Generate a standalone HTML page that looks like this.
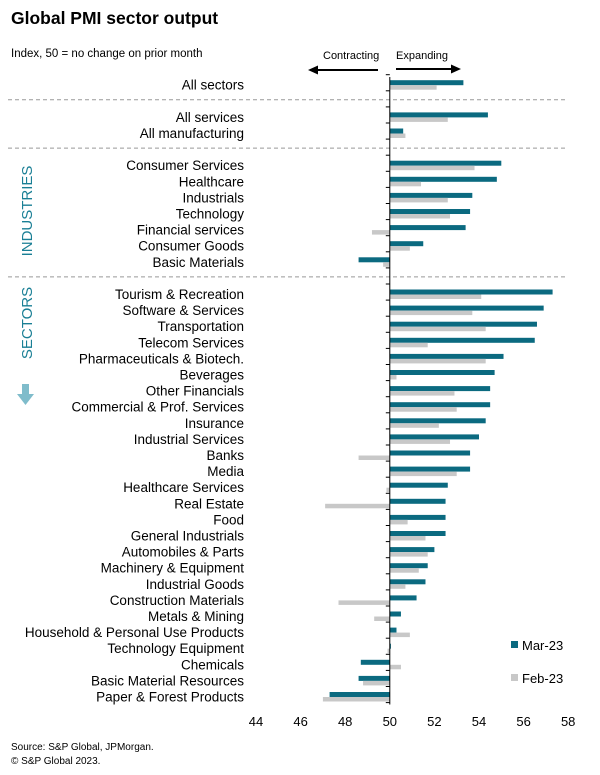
<!DOCTYPE html>
<html><head><meta charset="utf-8">
<style>
body{margin:0;background:#fff;}
svg{display:block;font-family:"Liberation Sans",Arial,sans-serif;}
</style></head>
<body>
<svg id="chart" width="600" height="775" viewBox="0 0 600 775" xmlns="http://www.w3.org/2000/svg">
<text x="11" y="24" font-size="17.5" font-weight="bold" fill="#000">Global PMI sector output</text>
<text x="11" y="57" font-size="11.5" fill="#000">Index, 50 = no change on prior month</text>
<text x="323" y="59" font-size="11" fill="#000">Contracting</text>
<text x="396" y="59" font-size="11" fill="#000">Expanding</text>
<g><line x1="316" y1="70" x2="378" y2="70" stroke="#000" stroke-width="2"/><polygon points="308,70 318,65.5 318,74.5" fill="#000"/></g>
<g><line x1="396" y1="69" x2="452" y2="69" stroke="#000" stroke-width="2"/><polygon points="461,69 451,64.5 451,73.5" fill="#000"/></g>
<text transform="translate(32,211) rotate(-90)" text-anchor="middle" font-size="15" fill="#1a7f95">INDUSTRIES</text>
<text transform="translate(32,323) rotate(-90)" text-anchor="middle" font-size="15" fill="#1a7f95">SECTORS</text>
<g><rect x="22" y="384" width="7" height="11" fill="#7fbccb"/><polygon points="17,394 34,394 25.5,405" fill="#7fbccb"/></g>
<g id="plot"></g>
<g>
<rect x="511" y="641" width="7" height="7" fill="#0b6a80"/>
<text x="522" y="650" font-size="13" fill="#000">Mar-23</text>
<rect x="511" y="674" width="7" height="7" fill="#c8c8c8"/>
<text x="522" y="683" font-size="13" fill="#000">Feb-23</text>
</g>
<text x="11" y="750" font-size="10" fill="#000">Source: S&amp;P Global, JPMorgan.</text>
<text x="11" y="764" font-size="10" fill="#000">© S&amp;P Global 2023.</text>
</svg>
<script>
const categories = ["All sectors","","All services","All manufacturing","","Consumer Services","Healthcare","Industrials","Technology","Financial services","Consumer Goods","Basic Materials","","Tourism & Recreation","Software & Services","Transportation","Telecom Services","Pharmaceuticals & Biotech.","Beverages","Other Financials","Commercial & Prof. Services","Insurance","Industrial Services","Banks","Media","Healthcare Services","Real Estate","Food","General Industrials","Automobiles & Parts","Machinery & Equipment","Industrial Goods","Construction Materials","Metals & Mining","Household & Personal Use Products","Technology Equipment","Chemicals","Basic Material Resources","Paper & Forest Products"];
const mar23 = [53.3,null,54.4,50.6,null,55.0,54.8,53.7,53.6,53.4,51.5,48.6,null,57.3,56.9,56.6,56.5,55.1,54.7,54.5,54.5,54.3,54.0,53.6,53.6,52.6,52.5,52.5,52.5,52.0,51.7,51.6,51.2,50.5,50.3,50.05,48.7,48.6,47.3];
const feb23 = [52.1,null,52.6,50.7,null,53.8,51.4,52.6,52.7,49.2,50.9,49.7,null,54.1,53.7,54.3,51.7,54.3,50.3,52.9,53.0,52.2,52.7,48.6,53.0,49.85,47.1,50.8,51.6,51.7,51.3,50.7,47.7,49.3,50.9,49.9,50.5,48.8,47.0];
const xTicks = [44,46,48,50,52,54,56,58];

const NS="http://www.w3.org/2000/svg";
const plot=document.getElementById('plot');
const x0=256, pxPer=22.3, minV=44;
function xs(v){return x0+(v-minV)*pxPer;}
function yRow(i){return 82.7+i*16.1;}
function mk(tag,attrs){const e=document.createElementNS(NS,tag);for(const k in attrs)e.setAttribute(k,attrs[k]);plot.appendChild(e);return e;}

[1,4,12].forEach(function(i){
  const l=mk('line',{x1:8,x2:566,y1:yRow(i)+1,y2:yRow(i)+1,stroke:'#999','stroke-dasharray':'4,3','stroke-width':1});
  
  
});

categories.forEach(function(c,i){
  const y=yRow(i);
  if(mar23[i]!==null){
    const a=mar23[i];
    const r=mk('rect',{x:Math.min(xs(a),xs(50)),y:y-2.5,width:Math.abs(xs(a)-xs(50)),height:5,fill:'#0b6a80'});
    
    
  }
  if(feb23[i]!==null){
    const b=feb23[i];
    const r=mk('rect',{x:Math.min(xs(b),xs(50)),y:y+2.5,width:Math.abs(xs(b)-xs(50)),height:4.5,fill:'#c8c8c8'});
    
    
  }
  if(c){
    const t=mk('text',{x:244,y:y+7,'text-anchor':'end','font-size':13.5,fill:'#000'});
    t.textContent=c;
    
    
  }
});

const ax=mk('line',{x1:xs(50),x2:xs(50),y1:77,y2:yRow(38)+10,stroke:'#000','stroke-width':1});


for(let i=0;i<=39;i++){
  const yy=yRow(i)-8;
  const tk=mk('line',{x1:xs(50)-4,x2:xs(50),y1:yy,y2:yy,stroke:'#000','stroke-width':1});
  
  
}
xTicks.forEach(function(v){
  const t=mk('text',{x:xs(v),y:726,'text-anchor':'middle','font-size':13,fill:'#000'});
  t.textContent=v;
  
  
});
</script>
</body></html>
